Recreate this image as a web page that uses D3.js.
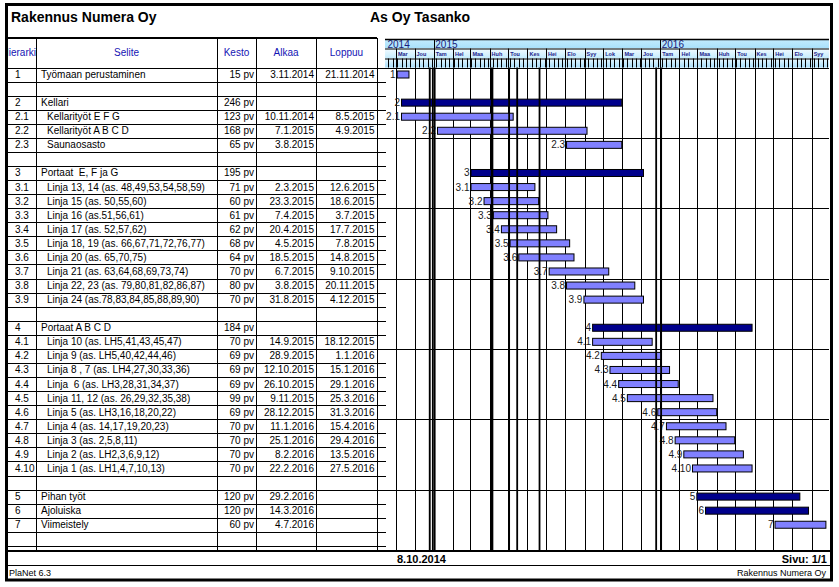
<!DOCTYPE html>
<html><head><meta charset="utf-8">
<script src="https://cdn.jsdelivr.net/npm/d3@7"></script>
<style>body{margin:0;background:#fff} svg{display:block;font-family:"Liberation Sans",Arial,sans-serif}</style>
</head><body><svg id="c" width="839" height="587"></svg>
<script>
// ---------- DATA ----------
const ids = ["1","","2","2.1","2.2","2.3","","3","3.1","3.2","3.3","3.4","3.5","3.6","3.7","3.8","3.9","","4","4.1","4.2","4.3","4.4","4.5","4.6","4.7","4.8","4.9","4.10","","5","6","7"];
const names = ["Työmaan perustaminen","","Kellari","Kellarityöt E F G","Kellarityöt A B C D","Saunaosasto","","Portaat  E, F ja G",
 "Linja 13, 14 (as. 48,49,53,54,58,59)","Linja 15 (as. 50,55,60)","Linja 16 (as.51,56,61)","Linja 17 (as. 52,57,62)",
 "Linja 18, 19 (as. 66,67,71,72,76,77)","Linja 20 (as. 65,70,75)","Linja 21 (as. 63,64,68,69,73,74)",
 "Linja 22, 23 (as. 79,80,81,82,86,87)","Linja 24 (as.78,83,84,85,88,89,90)","","Portaat A B C D",
 "Linja 10 (as. LH5,41,43,45,47)","Linja 9 (as. LH5,40,42,44,46)","Linja 8 , 7 (as. LH4,27,30,33,36)",
 "Linja  6 (as. LH3,28,31,34,37)","Linja 11, 12 (as. 26,29,32,35,38)","Linja 5 (as. LH3,16,18,20,22)",
 "Linja 4 (as. 14,17,19,20,23)","Linja 3 (as. 2,5,8,11)","Linja 2 (as. LH2,3,6,9,12)","Linja 1 (as. LH1,4,7,10,13)",
 "","Pihan työt","Ajoluiska","Viimeistely"];
const kesto = ["15 pv","","246 pv","123 pv","168 pv","65 pv","","195 pv","71 pv","60 pv","61 pv","62 pv","68 pv","64 pv","70 pv","80 pv","70 pv","","184 pv","70 pv","69 pv","69 pv","69 pv","99 pv","69 pv","70 pv","70 pv","70 pv","70 pv","","120 pv","120 pv","60 pv"];
const alkaa = ["3.11.2014","","","10.11.2014","7.1.2015","3.8.2015","","","2.3.2015","23.3.2015","7.4.2015","20.4.2015","4.5.2015","18.5.2015","6.7.2015","3.8.2015","31.8.2015","","","14.9.2015","28.9.2015","12.10.2015","26.10.2015","9.11.2015","28.12.2015","11.1.2016","25.1.2016","8.2.2016","22.2.2016","","29.2.2016","14.3.2016","4.7.2016"];
const loppuu = ["21.11.2014","","","8.5.2015","4.9.2015","","","","12.6.2015","18.6.2015","3.7.2015","17.7.2015","7.8.2015","14.8.2015","9.10.2015","20.11.2015","4.12.2015","","","18.12.2015","1.1.2016","15.1.2016","29.1.2016","25.3.2016","31.3.2016","15.4.2016","29.4.2016","13.5.2016","27.5.2016","","","",""];
const barStart = ["2014-11-03",null,"2014-11-10","2014-11-10","2015-01-07","2015-08-03",null,"2015-03-02","2015-03-02","2015-03-23","2015-04-07","2015-04-20","2015-05-04","2015-05-18","2015-07-06","2015-08-03","2015-08-31",null,"2015-09-14","2015-09-14","2015-09-28","2015-10-12","2015-10-26","2015-11-09","2015-12-28","2016-01-11","2016-01-25","2016-02-08","2016-02-22",null,"2016-02-29","2016-03-14","2016-07-04"];
const barEnd = ["2014-11-21",null,"2015-10-30","2015-05-08","2015-09-04","2015-10-30",null,"2015-12-04","2015-06-12","2015-06-18","2015-07-03","2015-07-17","2015-08-07","2015-08-14","2015-10-09","2015-11-20","2015-12-04",null,"2016-05-27","2015-12-18","2016-01-01","2016-01-15","2016-01-29","2016-03-25","2016-03-31","2016-04-15","2016-04-29","2016-05-13","2016-05-27",null,"2016-08-12","2016-08-26","2016-09-23"];
const summary = [0,0,1,0,0,0,0,1,0,0,0,0,0,0,0,0,0,0,1,0,0,0,0,0,0,0,0,0,0,0,1,1,0];
const holidayFrom = ["2014-12-24","2014-12-29","2015-01-01","2015-04-03","2015-05-01","2015-05-14","2015-06-19","2015-12-24","2016-01-01"];
const holidayTo   = ["2014-12-27","2014-12-30","2015-01-03","2015-04-07","2015-05-02","2015-05-15","2015-06-20","2015-12-26","2016-01-02"];
const monthNames = ["Tam","Hel","Maa","Huh","Tou","Kes","Hei","Elo","Syy","Lok","Mar","Jou"];
const headers = ["Hierarkia","Selite","Kesto","Alkaa","Loppuu"];
const timeDomain = ["2014-10-16","2016-09-29"];

// ---------- LAYOUT ----------
const svg = d3.select("#c");
const P = d3.utcParse("%Y-%m-%d");
const colX = [7,36,217,256,316,377];
const gx0 = 386, gx1 = 829;
const hTop = 38, hBot = 67.5, rowH = 14.07, footTop = 551, foot2 = 565;
const yr0 = 39, yr1 = 48.5, mo1 = 58.5;
const x = d3.scaleUtc().domain(timeDomain.map(P)).range([gx0, gx1]);
const rowTop = i => hBot + i*rowH;

const defs = svg.append("defs");
function grad(id, c1, c2){
  const g = defs.append("linearGradient").attr("id", id).attr("x1",0).attr("y1",0).attr("x2",0).attr("y2",1);
  g.append("stop").attr("offset","0%").attr("stop-color",c1);
  g.append("stop").attr("offset","100%").attr("stop-color",c2);
}
grad("gY","#c4ecff","#a8e0fb");
grad("gM","#f2fbff","#c3ebfd");
grad("gT","#e8f8ff","#a9defa");
defs.append("clipPath").attr("id","clipH").append("rect").attr("x",colX[0]).attr("y",hTop).attr("width",colX[1]-colX[0]).attr("height",hBot-hTop);
defs.append("clipPath").attr("id","clipG").append("rect").attr("x",gx0).attr("y",0).attr("width",gx1-gx0).attr("height",H=587);

// Title
svg.append("text").attr("x",11).attr("y",22).attr("font-size",14).attr("font-weight","bold").text("Rakennus Numera Oy");
svg.append("text").attr("x",370).attr("y",22).attr("font-size",14).attr("font-weight","bold").text("As Oy Tasanko");

// ---------- GANTT HEADER ----------
const gh = svg.append("g");
gh.append("rect").attr("x",gx0-1).attr("y",yr0).attr("width",gx1-gx0+1).attr("height",yr1-yr0).attr("fill","url(#gY)");
gh.append("rect").attr("x",gx0-1).attr("y",yr1).attr("width",gx1-gx0+1).attr("height",mo1-yr1).attr("fill","url(#gM)");
gh.append("rect").attr("x",gx0-1).attr("y",mo1).attr("width",gx1-gx0+1).attr("height",hBot-mo1).attr("fill","url(#gT)");
// weekly ticks
const weeks = d3.utcMonday.range(...x.domain());
gh.selectAll(".wk").data(weeks).join("line")
  .attr("x1",d=>Math.round(x(d))+0.5).attr("x2",d=>Math.round(x(d))+0.5)
  .attr("y1",mo1).attr("y2",hBot).attr("stroke","#000").attr("stroke-width",1);
const months = d3.utcMonth.range(...x.domain());
gh.selectAll(".mo").data(months).join("line")
  .attr("x1",d=>Math.round(x(d))+0.5).attr("x2",d=>Math.round(x(d))+0.5)
  .attr("y1",yr1).attr("y2",hBot).attr("stroke","#000");
gh.selectAll(".ml").data(months).join("text")
  .attr("x",d=>x(d)+2).attr("y",56).attr("font-size",5.5).attr("font-weight","bold").attr("fill","#1c1c8a")
  .text(d=>monthNames[d.getUTCMonth()]);
const years = [x.domain()[0]].concat(d3.utcYear.range(...x.domain()));
gh.selectAll(".yl").data(years.slice(1)).join("line")
  .attr("x1",d=>Math.round(x(d))+0.5).attr("x2",d=>Math.round(x(d))+0.5)
  .attr("y1",yr0).attr("y2",hBot).attr("stroke","#000");
gh.selectAll(".yt").data(years).join("text")
  .attr("x",d=>x(d)+1.5).attr("y",47.5).attr("font-size",10).attr("fill","#1a1a7a")
  .text(d=>d3.utcFormat("%Y")(d));
[yr0, yr1, mo1].forEach((y,k)=>gh.append("line").attr("x1",gx0-1).attr("x2",gx1).attr("y1",y+0.5).attr("y2",y+0.5)
  .attr("stroke","#000").attr("stroke-width",k==0?1.5:1));

// ---------- GANTT BODY GRID ----------
const gb = svg.append("g");
gb.selectAll(".vm").data(months).join("line")
  .attr("x1",d=>Math.round(x(d))+0.5).attr("x2",d=>Math.round(x(d))+0.5)
  .attr("y1",hBot).attr("y2",footTop).attr("stroke","#000");
// row lines (table + gap)
const nLines = d3.range(0, 40).filter(i => rowTop(i) < footTop - 2);
gb.selectAll(".rl").data(nLines).join("line")
  .attr("x1",colX[0]).attr("x2",d=> d%5===0 ? gx1 : gx0)
  .attr("y1",d=>Math.round(rowTop(d))+0.5).attr("y2",d=>Math.round(rowTop(d))+0.5)
  .attr("stroke","#000");

// ---------- TABLE ----------
const tb = svg.append("g").attr("font-size",10);
tb.append("line").attr("x1",colX[0]).attr("x2",colX[5]).attr("y1",hTop).attr("y2",hTop).attr("stroke","#000").attr("stroke-width",2);
colX.slice(1).forEach(cx => tb.append("line").attr("x1",cx+0.5).attr("x2",cx+0.5).attr("y1",hTop).attr("y2",footTop).attr("stroke","#000"));
headers.forEach((h,k)=>{
  const t = tb.append("text").attr("x",(colX[k]+colX[k+1])/2).attr("y",56).attr("text-anchor","middle")
    .attr("fill","#1414b4").text(h);
  if (k===0) t.attr("clip-path","url(#clipH)");
});
ids.forEach((id,i)=>{
  const yb = rowTop(i) + 10.5;
  if (id) tb.append("text").attr("x",15).attr("y",yb).text(id);
  if (names[i]) tb.append("text").attr("x", id.includes(".") ? 47 : 41).attr("y",yb).style("white-space","pre").text(names[i]);
  if (kesto[i]) tb.append("text").attr("x",254).attr("y",yb).attr("text-anchor","end").text(kesto[i]);
  if (alkaa[i]) tb.append("text").attr("x",314).attr("y",yb).attr("text-anchor","end").text(alkaa[i]);
  if (loppuu[i]) tb.append("text").attr("x",374.5).attr("y",yb).attr("text-anchor","end").text(loppuu[i]);
});

// ---------- BARS ----------
const bars = ids.map((id,i)=>({id, i, s: barStart[i] && P(barStart[i]), e: barEnd[i] && d3.utcDay.offset(P(barEnd[i]),1), sum: summary[i]})).filter(d=>d.s);
const bg = svg.append("g").attr("clip-path","url(#clipG)");
bg.selectAll("rect").data(bars).join("rect")
  .attr("x",d=>x(d.s)).attr("width",d=>x(d.e)-x(d.s))
  .attr("y",d=>rowTop(d.i)+3.5).attr("height",7)
  .attr("fill",d=>d.sum ? "#00008c" : "#8080ff").attr("stroke","#000").attr("stroke-width",1);
svg.append("g").selectAll("text").data(bars).join("text")
  .attr("x",d=>x(d.s)-1.5).attr("y",d=>rowTop(d.i)+10.5).attr("text-anchor","end")
  .attr("font-size",10).attr("fill","#1a1a1a").text(d=>d.id);

// holiday lines over bars
svg.append("g").selectAll("rect").data(holidayFrom.map((f,k)=>[P(f),P(holidayTo[k])])).join("rect")
  .attr("x",d=>x(d[0])).attr("width",d=>Math.max(1.8, x(d[1])-x(d[0])))
  .attr("y",hBot).attr("height",footTop-hBot).attr("fill","#000");

// ---------- FOOTER ----------
svg.append("line").attr("x1",6).attr("x2",gx1+2).attr("y1",footTop).attr("y2",footTop).attr("stroke","#000").attr("stroke-width",2);
svg.append("line").attr("x1",6).attr("x2",gx1+2).attr("y1",foot2+0.5).attr("y2",foot2+0.5).attr("stroke","#000");
svg.append("text").attr("x",397).attr("y",563).attr("font-size",11).attr("font-weight","bold").text("8.10.2014");
svg.append("text").attr("x",827).attr("y",563).attr("font-size",11).attr("font-weight","bold").attr("text-anchor","end").text("Sivu: 1/1");
svg.append("text").attr("x",9).attr("y",576).attr("font-size",9).text("PlaNet 6.3");
svg.append("text").attr("x",826).attr("y",576).attr("font-size",9).attr("text-anchor","end").text("Rakennus Numera Oy");

// outer frame
svg.append("rect").attr("x",6.5).attr("y",4.5).attr("width",825).attr("height",575.5)
  .attr("fill","none").attr("stroke","#000").attr("stroke-width",3);
</script></body></html>
